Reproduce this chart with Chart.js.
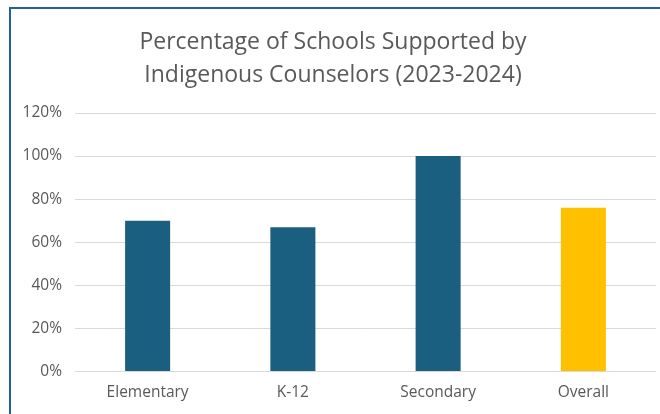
<!DOCTYPE html>
<html>
<head>
<meta charset="utf-8">
<script src="https://cdn.jsdelivr.net/npm/chart.js@4"></script>
<style>
  html, body { margin: 0; padding: 0; background: #fff; }
  #wrap { position: relative; width: 660px; height: 414px; overflow: hidden; }
  #frame {
    position: absolute; left: 9px; top: 7px; width: 700px; height: 500px;
    border-top: 2px solid #23609b; border-left: 2px solid #23609b;
  }
  canvas { position: absolute; left: 0; top: 0; }
</style>
</head>
<body>
<div id="wrap">
  <div id="frame"></div>
  <canvas id="chart" width="660" height="414"></canvas>
</div>
<script>
// School categories and share supported (%)
const categories = ['Elementary', 'K-12', 'Secondary', 'Overall'];
const supported = [70, 67, 100, 76];
const barColors = ['#1a5e80', '#1a5e80', '#1a5e80', '#ffc000'];
const yTicks = [0, 20, 40, 60, 80, 100, 120];

const ctx = document.getElementById('chart');

new Chart(ctx, {
  type: 'bar',
  data: {
    labels: categories,
    datasets: [{
      data: supported,
      backgroundColor: barColors,
      barPercentage: 0.31,
      categoryPercentage: 1
    }]
  },
  options: {
    responsive: false,
    animation: false,
    layout: {
      padding: { left: 10, right: 4, top: 0, bottom: 0 }
    },
    plugins: {
      legend: { display: false },
      tooltip: { enabled: false },
      title: {
        display: true,
        text: ['Percentage of Schools Supported by', 'Indigenous Counselors (2023-2024)'],
        color: '#595959',
        font: { family: 'Open Sans', size: 23, weight: 'normal', lineHeight: 1.435 },
        padding: { top: 26, bottom: 21 }
      }
    },
    scales: {
      x: {
        grid: { display: false, drawTicks: false },
        border: { display: false },
        ticks: {
          color: '#595959',
          font: { family: 'Open Sans', size: 15.5 },
          padding: 12
        }
      },
      y: {
        min: 0,
        max: 120,
        afterFit: scale => { scale.width = 65; },
        afterBuildTicks: scale => {
          scale.ticks = yTicks.map(v => ({ value: v }));
        },
        grid: { color: '#d9d9d9', drawTicks: false },
        border: { display: false },
        ticks: {
          color: '#595959',
          font: { family: 'Open Sans', size: 15.5 },
          padding: 13,
          callback: v => v + '%'
        }
      }
    }
  }
});
</script>
</body>
</html>
